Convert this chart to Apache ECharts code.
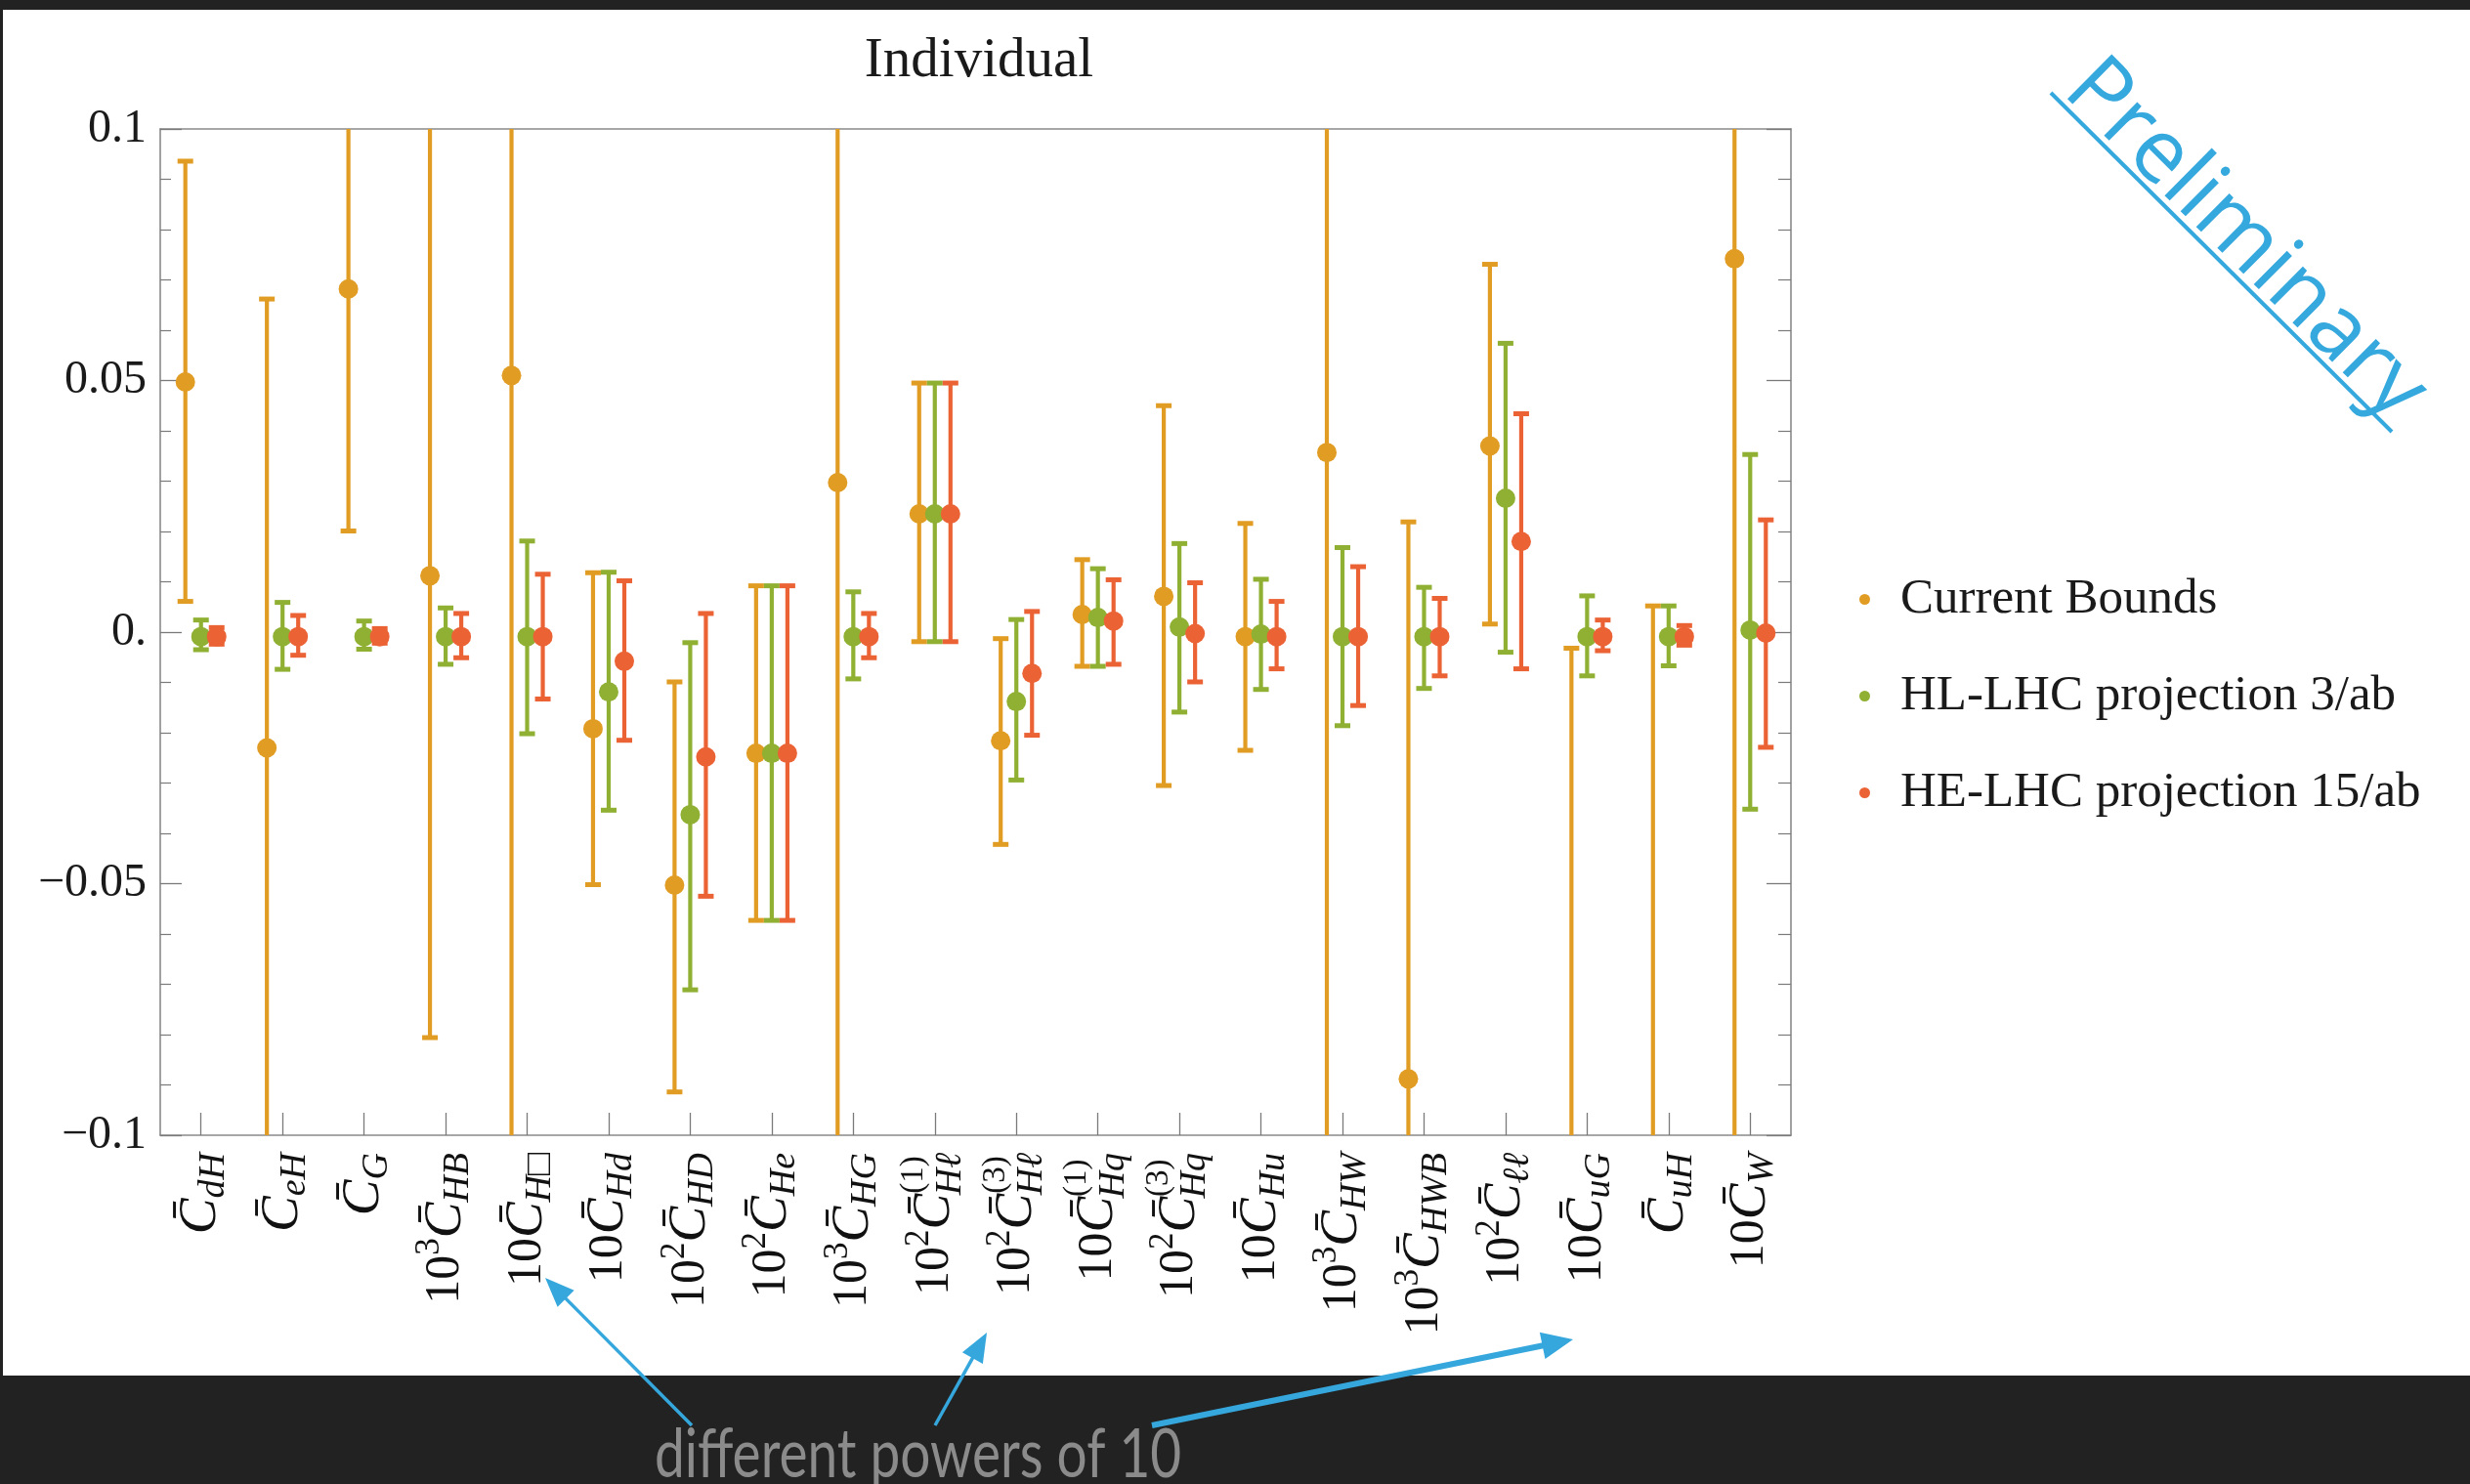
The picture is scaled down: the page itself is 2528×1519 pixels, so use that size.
<!DOCTYPE html>
<html>
<head>
<meta charset="utf-8">
<script src="https://cdn.jsdelivr.net/npm/echarts@6/dist/echarts.min.js"></script>
<style>
  html, body { margin: 0; padding: 0; background: #ffffff; }
  #chart { width: 2528px; height: 1519px; }
</style>
</head>
<body>
<div id="chart"></div>
<script>
// Wilson coefficients (rescaled by the power of ten shown in each label)
const categories = [
  '{c|C\u0304}{s|dH}',
  '{c|C\u0304}{s|eH}',
  '{c|C\u0304}{s|G}',
  '{n|10}{p|3}{c|C\u0304}{s|HB}',
  '{n|10}{c|C\u0304}{s|H\u25A1}',
  '{n|10}{c|C\u0304}{s|Hd}',
  '{n|10}{p|2}{c|C\u0304}{s|HD}',
  '{n|10}{p|2}{c|C\u0304}{s|He}',
  '{n|10}{p|3}{c|C\u0304}{s|HG}',
  '{n|10}{p|2}{c|C\u0304}{q|(1)}{t|H\u2113}',
  '{n|10}{p|2}{c|C\u0304}{q|(3)}{t|H\u2113}',
  '{n|10}{c|C\u0304}{q|(1)}{t|Hq}',
  '{n|10}{p|2}{c|C\u0304}{q|(3)}{t|Hq}',
  '{n|10}{c|C\u0304}{s|Hu}',
  '{n|10}{p|3}{c|C\u0304}{s|HW}',
  '{n|10}{p|3}{c|C\u0304}{s|HWB}',
  '{n|10}{p|2}{c|C\u0304}{s|\u2113\u2113}',
  '{n|10}{c|C\u0304}{s|uG}',
  '{c|C\u0304}{s|uH}',
  '{n|10}{c|C\u0304}{s|W}'
];

const seriesNames = ['Current Bounds', 'HL-LHC projection 3/ab', 'HE-LHC projection 15/ab'];

// Current bounds: central value, lower and upper end of the interval
const currentCenter = [0.0497, -0.023, 0.0682, 0.0112, 0.051, -0.0192, -0.0503, -0.0241, 0.0297, 0.0235,
                       -0.0216, 0.0035, 0.0071, -0.0009, 0.0357, -0.0888, 0.037, -0.115, -0.112, 0.0742];
const currentLow    = [0.0061, -0.112, 0.0201, -0.0806, -0.119, -0.0502, -0.0914, -0.0573, -0.110, -0.0019,
                       -0.0422, -0.0068, -0.0305, -0.0235, -0.114, -0.1995, 0.0016, -0.227, -0.229, -0.116];
const currentHigh   = [0.0936, 0.0662, 0.1163, 0.103, 0.221, 0.0118, -0.0099, 0.0092, 0.170, 0.0495,
                       -0.0013, 0.0144, 0.045, 0.0216, 0.186, 0.0219, 0.0731, -0.0032, 0.0052, 0.264];

// HL-LHC projection, 3/ab
const hlCenter = [-0.0009, -0.0009, -0.0009, -0.0009, -0.0009, -0.0119, -0.0363, -0.0241, -0.0009, 0.0235,
                  -0.0138, 0.0029, 0.001, -0.0004, -0.0009, -0.0009, 0.0266, -0.0009, -0.0009, 0.0004];
const hlLow    = [-0.0035, -0.0074, -0.0034, -0.0064, -0.0202, -0.0354, -0.0711, -0.0573, -0.0093, -0.0019,
                  -0.0294, -0.0068, -0.0159, -0.0114, -0.0186, -0.0112, -0.004, -0.0087, -0.0067, -0.0352];
const hlHigh   = [0.0024, 0.0059, 0.0022, 0.0048, 0.0181, 0.0119, -0.0021, 0.0092, 0.008, 0.0495,
                  0.0025, 0.0126, 0.0176, 0.0105, 0.0168, 0.0089, 0.0574, 0.0072, 0.0052, 0.0353];

// HE-LHC projection, 15/ab
const heCenter = [-0.0009, -0.0009, -0.0009, -0.0009, -0.0009, -0.0058, -0.0248, -0.0241, -0.0009, 0.0235,
                  -0.0082, 0.0022, -0.0003, -0.0009, -0.0009, -0.0009, 0.018, -0.0009, -0.0009, -0.0002];
const heLow    = [-0.0024, -0.0046, -0.0022, -0.0051, -0.0133, -0.0215, -0.0525, -0.0573, -0.0051, -0.0019,
                  -0.0205, -0.0064, -0.0099, -0.0073, -0.0146, -0.0087, -0.0073, -0.0037, -0.0026, -0.0229];
const heHigh   = [0.0009, 0.0033, 0.0007, 0.0037, 0.0115, 0.0102, 0.0037, 0.0092, 0.0037, 0.0495,
                  0.0041, 0.0104, 0.0098, 0.0061, 0.013, 0.0067, 0.0434, 0.0024, 0.0013, 0.0223];

const yTickValues = [-0.1, -0.05, 0, 0.05, 0.1];
const yTickLabels = ['\u22120.1', '\u22120.05', '0.', '0.05', '0.1'];

const colors = ['#E19C24', '#8FB032', '#EB6235'];
const serif = '"Liberation Serif", "Times New Roman", "DejaVu Serif", serif';

function rows(center, low, high) {
  return center.map((c, i) => [i, c, low[i], high[i]]);
}

// error bar with caps and a central dot; shift is a fraction of the category band
function errorBar(shift) {
  return function (params, api) {
    const cs = params.coordSys;
    const top = cs.y, bottom = cs.y + cs.height;
    const idx = api.value(0);
    const band = api.size([1, 0])[0];
    const x = api.coord([idx, 0])[0] + shift * band;
    const yc = api.coord([idx, api.value(1)])[1];
    const yl = api.coord([idx, api.value(2)])[1];
    const yh = api.coord([idx, api.value(3)])[1];
    const color = api.visual('color');
    const clamp = v => Math.max(top, Math.min(bottom, v));
    const children = [{
      type: 'line',
      shape: { x1: x, y1: clamp(yh), x2: x, y2: clamp(yl) },
      style: { stroke: color, lineWidth: 4.2 }
    }];
    const capHalf = 8;
    [yh, yl].forEach(y => {
      if (y >= top - 1 && y <= bottom + 1) {
        children.push({
          type: 'line',
          shape: { x1: x - capHalf, y1: y, x2: x + capHalf, y2: y },
          style: { stroke: color, lineWidth: 5 }
        });
      }
    });
    if (yc >= top && yc <= bottom) {
      children.push({ type: 'circle', shape: { cx: x, cy: yc, r: 10 }, style: { fill: color } });
    }
    return { type: 'group', children: children };
  };
}

function arrow(x1, y1, x2, y2, width, head, halfW) {
  const dx = x2 - x1, dy = y2 - y1, len = Math.hypot(dx, dy);
  const ux = dx / len, uy = dy / len, nx = -uy, ny = ux;
  const bx = x2 - ux * head, by = y2 - uy * head;
  return [
    { type: 'line', shape: { x1: x1, y1: y1, x2: bx + ux * 2, y2: by + uy * 2 },
      style: { stroke: '#35A7DD', lineWidth: width }, z: 10 },
    { type: 'polygon', shape: { points: [[x2, y2], [bx + nx * halfW, by + ny * halfW], [bx - nx * halfW, by - ny * halfW]] },
      style: { fill: '#35A7DD' }, z: 10 }
  ];
}

const chart = echarts.init(document.getElementById('chart'), null, { renderer: 'canvas' });

const tickColor = '#7a7a7a';
const frameColor = '#8a8a8a';

const option = {
  backgroundColor: '#ffffff',
  animation: false,
  color: colors,
  title: {
    text: 'Individual',
    left: 997,
    top: 30,
    textAlign: 'center',
    textStyle: { fontFamily: serif, fontSize: 57, fontWeight: 'normal', color: '#1a1a1a' }
  },
  legend: {
    orient: 'vertical',
    left: 1898,
    top: 583,
    icon: 'circle',
    itemWidth: 11,
    itemHeight: 11,
    itemGap: 48,
    data: seriesNames,
    textStyle: { fontFamily: serif, fontSize: 51, lineHeight: 50, color: '#1a1a1a', padding: [0, 0, 0, 26] }
  },
  grid: {
    left: 164, right: 695, top: 132, bottom: 357,
    containLabel: false,
    outerBoundsMode: 'none',
    show: false
  },
  xAxis: [{
    type: 'category',
    data: categories,
    boundaryGap: true,
    axisLine: { show: true, onZero: false, lineStyle: { color: frameColor, width: 1.6 } },
    axisTick: { show: true, alignWithLabel: true, inside: true, length: 23, lineStyle: { color: tickColor, width: 1.3 } },
    splitLine: { show: false },
    axisLabel: {
      interval: 0,
      rotate: 90,
      margin: 18,
      color: '#111111',
      rich: {
        c: { fontFamily: serif, fontStyle: 'italic', fontSize: 55, lineHeight: 86, color: '#111111' },
        n: { fontFamily: serif, fontSize: 50, color: '#111111' },
        p: { fontFamily: serif, fontSize: 35, padding: [0, 0, 32, 0], color: '#111111' },
        s: { fontFamily: serif, fontStyle: 'italic', fontSize: 38, padding: [26, 0, 0, 0], color: '#111111' },
        q: { fontFamily: serif, fontSize: 33, padding: [0, 0, 42, 0], color: '#111111' },
        t: { fontFamily: serif, fontStyle: 'italic', fontSize: 38, padding: [32, 0, 0, -40], color: '#111111' }
      }
    }
  }, {
    type: 'category',
    data: categories,
    position: 'top',
    boundaryGap: true,
    axisLine: { show: true, onZero: false, lineStyle: { color: frameColor, width: 1.6 } },
    axisTick: { show: false },
    axisLabel: { show: false },
    splitLine: { show: false }
  }],
  yAxis: [{
    type: 'value',
    min: -0.1, max: 0.1, interval: 0.05,
    axisLine: { show: true, onZero: false, lineStyle: { color: frameColor, width: 1.6 } },
    axisTick: { show: true, inside: true, length: 22, lineStyle: { color: tickColor, width: 1.3 } },
    minorTick: { show: true, splitNumber: 5, length: 11, lineStyle: { color: tickColor, width: 1.2 } },
    splitLine: { show: false },
    minorSplitLine: { show: false },
    axisLabel: {
      margin: 14,
      fontFamily: serif,
      fontSize: 48,
      color: '#1a1a1a',
      formatter: function (v) {
        const k = yTickValues.findIndex(t => Math.abs(t - v) < 1e-9);
        return k >= 0 ? yTickLabels[k] : '';
      }
    }
  }, {
    type: 'value',
    position: 'right',
    min: -0.1, max: 0.1, interval: 0.05,
    axisLine: { show: true, onZero: false, lineStyle: { color: frameColor, width: 1.6 } },
    axisTick: { show: true, inside: true, length: 25, lineStyle: { color: tickColor, width: 1.3 } },
    minorTick: { show: true, splitNumber: 5, length: 13, lineStyle: { color: tickColor, width: 1.2 } },
    splitLine: { show: false },
    axisLabel: { show: false }
  }],
  series: [
    { name: seriesNames[0], type: 'custom', clip: true, itemStyle: { color: colors[0] },
      renderItem: errorBar(-0.192), encode: { x: 0, y: [1, 2, 3] }, data: rows(currentCenter, currentLow, currentHigh) },
    { name: seriesNames[1], type: 'custom', clip: true, itemStyle: { color: colors[1] },
      renderItem: errorBar(0), encode: { x: 0, y: [1, 2, 3] }, data: rows(hlCenter, hlLow, hlHigh) },
    { name: seriesNames[2], type: 'custom', clip: true, itemStyle: { color: colors[2] },
      renderItem: errorBar(0.192), encode: { x: 0, y: [1, 2, 3] }, data: rows(heCenter, heLow, heHigh) }
  ],
  graphic: {
    elements: [
      // slide frame
      { type: 'rect', shape: { x: 0, y: 0, width: 2528, height: 10 }, style: { fill: '#222222' }, z: 5 },
      { type: 'rect', shape: { x: 0, y: 0, width: 3, height: 1519 }, style: { fill: '#222222' }, z: 5 },
      { type: 'rect', shape: { x: 0, y: 1408, width: 2528, height: 111 }, style: { fill: '#222222' }, z: 5 },
      {
        type: 'text', z: 11,
        x: 670, y: 1524, scaleX: 0.785,
        style: {
          text: 'different powers of 10', x: 0, y: 0,
          fontFamily: 'Lato, "Open Sans", sans-serif', fontWeight: 'normal', fontSize: 70,
          fill: '#8b8b8b', align: 'left', verticalAlign: 'bottom', textAlign: 'left', textVerticalAlign: 'bottom'
        }
      },
      ...arrow(708, 1459, 558, 1308, 3.5, 30, 12),
      ...arrow(957, 1459, 1010, 1364, 3.5, 30, 12),
      ...arrow(1179, 1459, 1610, 1371, 6, 32, 14),
      // watermark
      {
        type: 'text', z: 11,
        x: 2298, y: 246, rotation: -0.782,
        style: {
          text: 'Preliminary',
          fontFamily: '"Open Sans", Lato, sans-serif', fontSize: 90, fontWeight: 500,
          fill: '#35A8DE', align: 'center', verticalAlign: 'middle', textAlign: 'center', textVerticalAlign: 'middle'
        }
      },
      { type: 'line', z: 11, shape: { x1: 2099, y1: 95, x2: 2448, y2: 442 }, style: { stroke: '#35A8DE', lineWidth: 4 } }
    ]
  }
};

chart.setOption(option);
</script>
</body>
</html>
